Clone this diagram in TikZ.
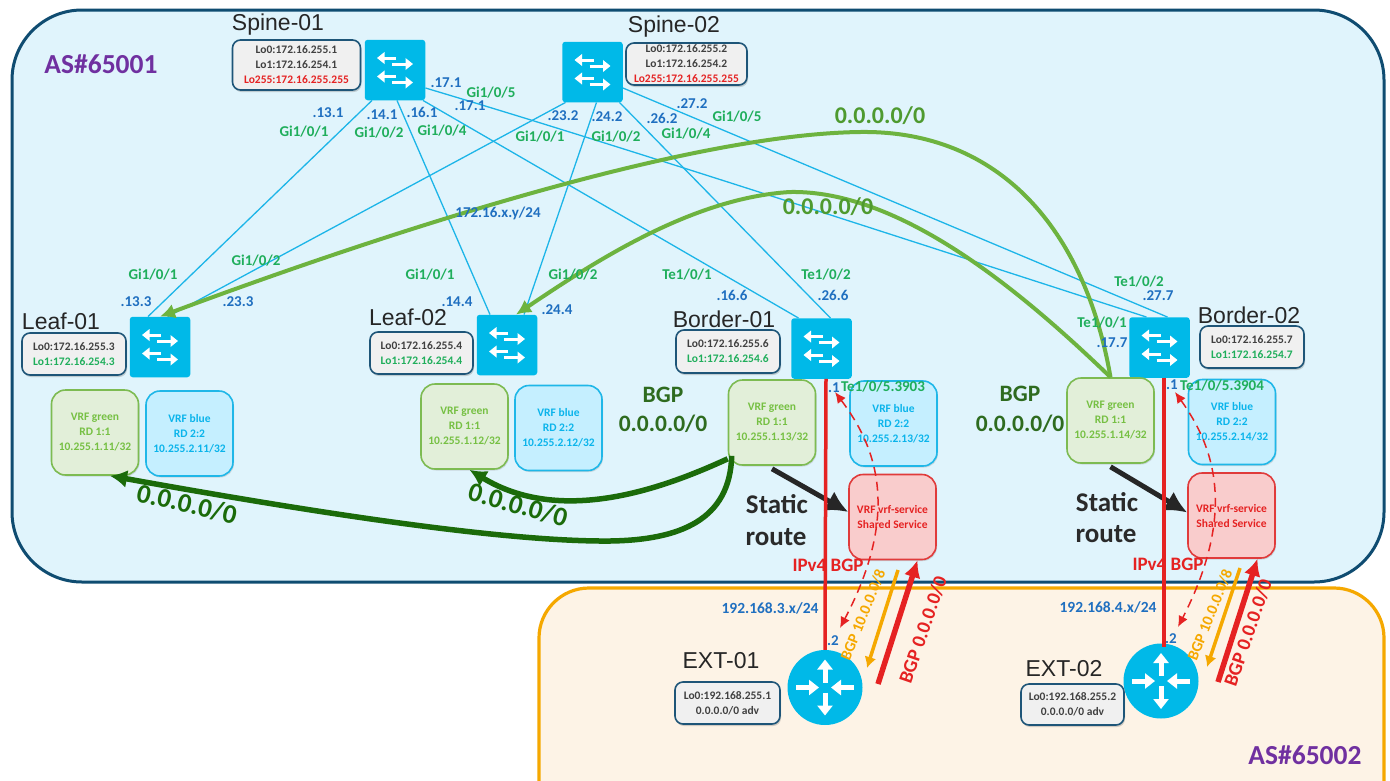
\documentclass[tikz,border=0pt]{standalone}
\usepackage{fontspec}
\setmainfont{Carlito}
\newfontfamily\titlefont{Liberation Sans}
\usetikzlibrary{arrows.meta,shadows,calc}
\definecolor{swblue}{HTML}{00B9E8}
\definecolor{linkblue}{HTML}{1CB5E8}
\definecolor{lblue}{HTML}{1F6FC0}
\definecolor{lgreen}{HTML}{1FAE5B}
\definecolor{lpurple}{HTML}{7030A0}
\definecolor{darkbgp}{HTML}{2E6B1F}
\definecolor{dgreen}{HTML}{1B6B0A}
\definecolor{mgreen}{HTML}{6DB33F}
\definecolor{mtext}{HTML}{4E9A2F}
\definecolor{redl}{HTML}{E52222}
\definecolor{orl}{HTML}{F5A800}
\definecolor{inktxt}{HTML}{2A2A2A}
\definecolor{boxline}{HTML}{1E5578}
\definecolor{boxfill}{HTML}{F0F0F0}
\definecolor{asline}{HTML}{0F4C71}
\definecolor{asfill}{HTML}{E0F4FC}
\definecolor{extfill}{HTML}{FDF3E6}
\definecolor{vgline}{HTML}{7DBB52}
\definecolor{vgfill}{HTML}{E2EFD9}
\definecolor{vgtext}{HTML}{76C043}
\definecolor{vbline}{HTML}{1FB7E8}
\definecolor{vbfill}{HTML}{C5EFFF}
\definecolor{vbtext}{HTML}{0AB4EB}
\definecolor{vrline}{HTML}{E03B3B}
\definecolor{vrfill}{HTML}{F9CCCC}
\newcounter{tlab}
\newcommand{\lab}[4][]{\stepcounter{tlab}\node[#1] (tl\arabic{tlab}) at (#2,#3) {#4};}
\newcommand{\fs}[1]{\fontsize{#1}{#1}\selectfont}
\newcommand{\swnode}[3]{%
  \node[swbox] (#1) at (#2,#3) {};
  \begin{scope}[shift={(#2,#3)}]
    \draw[icon] (1,-12) -- (-18,-12);
    \draw[icon] (-3,-6) -- (18,-6);
    \draw[icon] (1,6.5) -- (-18,6.5);
    \draw[icon] (-3,12.5) -- (18,12.5);
  \end{scope}}
\newcommand{\rtnode}[3]{%
  \node[rtbox] (#1) at (#2,#3) {};
  \begin{scope}[shift={(#2,#3)}]
    \draw[icon2] (0,-5) -- (0,-28);
    \draw[icon2] (0,5) -- (0,28);
    \draw[icon2] (-29,0) -- (-6,0);
    \draw[icon2] (29,0) -- (6,0);
  \end{scope}}
\newcommand{\infob}[6]{\node[infobox,minimum width=#4,minimum height=#5] (#1) at (#2,#3) {#6};}
\newcommand{\lred}[1]{\textcolor{redl}{#1}}
\newcommand{\lgr}[1]{\textcolor{lgreen}{#1}}
\tikzset{
  swbox/.style={fill=swblue,rounded corners=3pt,minimum width=60.5,minimum height=60.5,inner sep=0},
  rtbox/.style={circle,fill=swblue,minimum size=75,inner sep=0},
  icon/.style={draw=white,line width=3pt,-{Triangle[length=7.5pt,width=11.5pt]}},
  icon2/.style={draw=white,line width=5pt,-{Triangle[length=10pt,width=15pt]}},
  infobox/.style={draw=boxline,fill=boxfill,rounded corners=8pt,line width=1.6pt,inner sep=0,align=center,
     font=\bfseries\fontsize{11.5}{15}\selectfont,text=black!75,drop shadow={shadow xshift=1pt,shadow yshift=-2pt,opacity=.35}},
  vrfbase/.style={rounded corners=14pt,line width=1.6pt,minimum width=87,minimum height=85,inner sep=0,align=center,
     font=\bfseries\fontsize{11.5}{15}\selectfont,drop shadow={shadow xshift=1pt,shadow yshift=-1.5pt,opacity=.25}},
  vg/.style={vrfbase,draw=vgline,fill=vgfill,text=vgtext},
  vb/.style={vrfbase,draw=vbline,fill=vbfill,text=vbtext},
  vr/.style={vrfbase,draw=vrline,fill=vrfill,text=redl},
  link/.style={draw=linkblue,line width=1.3pt},
  gcurve/.style={draw=mgreen,line width=4pt,-{Latex[length=15pt,width=15pt]}},
  dcurve/.style={draw=dgreen,line width=5.5pt,-{Latex[length=17pt,width=18pt]}},
  blk/.style={draw=black!85,line width=5pt,-{Latex[length=22pt,width=22pt]}},
  redv/.style={draw=redl,line width=3.5pt},
  reddash/.style={draw=redl,line width=1.5pt,dash pattern=on 9pt off 6pt,{Latex[length=11pt,width=10pt]}-{Latex[length=11pt,width=10pt]}},
  orarr/.style={draw=orl,line width=3.5pt,-{Latex[length=11pt,width=12pt]}},
  redarr/.style={draw=redl,line width=5.5pt,-{Latex[length=17pt,width=17pt]}},
  bl/.style={text=lblue,font=\bfseries\fs{15},inner sep=0},
  bll/.style={text=lblue,font=\bfseries\fs{15.5},inner sep=0},
  gl/.style={text=lgreen,font=\bfseries\fs{15},inner sep=0},
  ttl/.style={text=black!85,font=\titlefont\fs{23},inner sep=0},
  bgpt/.style={text=darkbgp,font=\bfseries\fs{23.5},inner sep=0},
  sta/.style={text=inktxt,font=\bfseries\fs{27},inner sep=0},
  route/.style={text=dgreen,font=\bfseries\fs{27},inner sep=0},
  lroute/.style={text=mtext,font=\bfseries\fs{24},inner sep=0},
  asn/.style={text=lpurple,font=\bfseries\fs{27.5},inner sep=0},
  ipv/.style={text=redl,font=\bfseries\fs{19},inner sep=0},
  rbgp/.style={text=redl,font=\bfseries\fs{19.5},inner sep=0,rotate=71},
  obgp/.style={text=orl,font=\bfseries\fs{15.5},inner sep=0,rotate=68},
}
\begin{document}
\begin{tikzpicture}[x=1pt,y=-1pt]
\useasboundingbox (0,0) rectangle (1390,780);
\begin{scope}
\clip (0,0) rectangle (1390,780);
\fill[white] (0,0) rectangle (1390,780);
\draw[draw=asline,fill=asfill,line width=3pt,rounded corners=70pt] (12,10) rectangle (1384,582);
\draw[draw=orl,fill=extfill,line width=3.2pt,rounded corners=50pt] (539,588) rectangle (1384,830);
\end{scope}

% devices
\swnode{sp1}{395}{70}
\swnode{sp2}{592.5}{72}
\swnode{lf1}{160}{347}
\swnode{lf2}{507}{345}
\swnode{bd1}{821.5}{348.5}
\swnode{bd2}{1159.5}{347.5}
\rtnode{r1}{825}{687.5}
\rtnode{r2}{1161}{681}

% spine-to-leaf/border links
\draw[link] ([xshift=-23pt]sp1.south) -- ([xshift=-12pt]lf1.north);
\draw[link] ([xshift=2pt]sp1.south) -- ([xshift=-17pt]lf2.north);
\draw[link] ([xshift=28pt]sp1.south) -- ([xshift=-23pt]bd1.north);
\draw[link] ([yshift=-18pt]sp1.east) .. controls (600,140) and (800,205) .. ([xshift=-13pt]bd2.north);
\draw[link] ([xshift=-27pt]sp2.south) -- ([xshift=8pt]lf1.north);
\draw[link] ([xshift=4pt]sp2.south) -- ([xshift=17pt]lf2.north);
\draw[link] ([xshift=27pt]sp2.south) -- ([xshift=9pt]bd1.north);
\draw[link] ([yshift=-16pt]sp2.east) -- ([xshift=8pt]bd2.north);

% info boxes
\infob{i1}{296.5}{65}{128}{50}{Lo0:172.16.255.1\\Lo1:172.16.254.1\\\lred{Lo255:172.16.255.255}}
\infob{i2}{686.5}{64}{121}{42}{Lo0:172.16.255.2\\Lo1:172.16.254.2\\\lred{Lo255:172.16.255.255}}
\infob{i3}{74}{354}{104}{42}{Lo0:172.16.255.3\\\lgr{Lo1:172.16.254.3}}
\infob{i4}{421.5}{353}{103}{42}{Lo0:172.16.255.4\\\lgr{Lo1:172.16.254.4}}
\infob{i5}{728}{351.5}{104}{43}{Lo0:172.16.255.6\\\lgr{Lo1:172.16.254.6}}
\infob{i6}{1252}{347}{104}{42}{Lo0:172.16.255.7\\\lgr{Lo1:172.16.254.7}}
\infob{i7}{727.5}{703}{105}{42}{Lo0:192.168.255.1\\0.0.0.0/0 adv}
\infob{i8}{1072.5}{704.5}{103}{41}{Lo0:192.168.255.2\\0.0.0.0/0 adv}

% VRF boxes
\node[vg] (vg1) at (95,432.5) {VRF green\\RD 1:1\\10.255.1.11/32};
\node[vb] (vb1) at (189.5,433.5) {VRF blue\\RD 2:2\\10.255.2.11/32};
\node[vg] (vg2) at (464.5,426.5) {VRF green\\RD 1:1\\10.255.1.12/32};
\node[vb] (vb2) at (558.5,428) {VRF blue\\RD 2:2\\10.255.2.12/32};
\node[vg] (vg3) at (772,422.5) {VRF green\\RD 1:1\\10.255.1.13/32};
\node[vb] (vb3) at (893.5,423.5) {VRF blue\\RD 2:2\\10.255.2.13/32};
\node[vr] (vr3) at (892.5,517) {VRF vrf-service\\Shared Service};
\node[vg] (vg4) at (1110.5,420.5) {VRF green\\RD 1:1\\10.255.1.14/32};
\node[vb] (vb4) at (1232,422) {VRF blue\\RD 2:2\\10.255.2.14/32};
\node[vr] (vr4) at (1231.5,515.5) {VRF vrf-service\\Shared Service};

% route curves
\draw[gcurve] (vg4.north) .. controls (1085,230) and (1000,130) .. (860,132) .. controls (700,134) and (420,220) .. (lf1.north);
\draw[gcurve] (vg4.north) .. controls (1020,290) and (900,190) .. (790,192) .. controls (690,198) and (590,265) .. ([xshift=9pt]lf2.north);
\draw[dcurve] ([yshift=7pt]vg3.south west) .. controls (660,490) and (560,525) .. ([xshift=5pt]vg2.south);
\draw[dcurve] ([xshift=4pt,yshift=10pt]vg3.south west) .. controls (730,520) and (680,540) .. (610,541) .. controls (500,542) and (300,510) .. ([xshift=15pt]vg1.south);
\draw[blk] ([yshift=-3pt]vg3.south) -- ([yshift=5pt]vr3.west);
\draw[blk] ([yshift=-3pt]vg4.south) -- ([yshift=3pt]vr4.west);

% BGP sessions
\draw[redv] ([xshift=4.5pt]bd1.south) -- (r1.north);
\draw[redv] ([xshift=4.5pt]bd2.south) -- ([xshift=3pt,yshift=-4pt]r2.north);

\coordinate (d1a) at (835,392);
\coordinate (d1b) at (840,628);
\coordinate (d2a) at (1175,392);
\coordinate (d2b) at (1178,627);
\draw[reddash] (d1a) .. controls (875,445) and (902,510) .. (d1b);
\draw[reddash] (d2a) .. controls (1213,445) and (1238,510) .. (d2b);

\coordinate (o1a) at (898,570);
\coordinate (o1b) at (867,668);
\coordinate (o2a) at (1240,568);
\coordinate (o2b) at (1207,667);
\draw[orarr] (o1a) -- (o1b);
\draw[orarr] (o2a) -- (o2b);
\coordinate (q1a) at (878,684);
\coordinate (q2a) at (1218,682);
\draw[redarr] (q1a) -- ([xshift=25pt]vr3.south);
\draw[redarr] (q2a) -- ([xshift=26pt]vr4.south);

% titles
\lab[ttl]{278}{25}{Spine-01}
\lab[ttl]{674}{27}{Spine-02}
\lab[ttl]{61}{321}{Leaf-01}
\lab[ttl]{408}{317}{Leaf-02}
\lab[ttl]{724}{319}{Border-01}
\lab[ttl]{1249}{315}{Border-02}
\lab[ttl]{721}{661}{EXT-01}
\lab[ttl]{1064}{669}{EXT-02}
\lab[asn]{101}{64}{AS\#65001}
\lab[asn]{1305}{755}{AS\#65002}

% port labels
\lab[bl]{446}{83}{.17.1}
\lab[bl]{470}{106}{.17.1}
\lab[bl]{328}{113}{.13.1}
\lab[bl]{382}{115}{.14.1}
\lab[bl]{422}{112}{.16.1}
\lab[bl]{563}{116}{.23.2}
\lab[bl]{607}{117}{.24.2}
\lab[bl]{662}{118}{.26.2}
\lab[bl]{692}{104}{.27.2}
\lab[gl]{491}{93}{Gi1/0/5}
\lab[gl]{304}{132}{Gi1/0/1}
\lab[gl]{379}{133}{Gi1/0/2}
\lab[gl]{442}{131}{Gi1/0/4}
\lab[gl]{540}{137}{Gi1/0/1}
\lab[gl]{616}{137}{Gi1/0/2}
\lab[gl]{686}{134}{Gi1/0/4}
\lab[gl]{737}{117}{Gi1/0/5}
\lab[bl]{498}{213}{172.16.x.y/24}
\lab[gl]{153}{275}{Gi1/0/1}
\lab[gl]{256}{261}{Gi1/0/2}
\lab[bl]{136}{302}{.13.3}
\lab[bl]{238}{302}{.23.3}
\lab[gl]{430}{275}{Gi1/0/1}
\lab[gl]{573}{275}{Gi1/0/2}
\lab[bl]{457}{302}{.14.4}
\lab[bl]{557}{310}{.24.4}
\lab[gl]{687}{275}{Te1/0/1}
\lab[gl]{826}{275}{Te1/0/2}
\lab[bl]{732}{295}{.16.6}
\lab[bl]{833}{295}{.26.6}
\lab[gl]{1139}{282}{Te1/0/2}
\lab[bl]{1158}{296}{.27.7}
\lab[gl]{1102}{323}{Te1/0/1}
\lab[bl]{1112}{343}{.17.7}
\lab[bl]{834}{388}{.1}
\lab[gl]{883}{387}{Te1/0/5.3903}
\lab[bl]{1172}{385}{.1}
\lab[gl]{1222}{386}{Te1/0/5.3904}
\lab[bll]{770}{608}{192.168.3.x/24}
\lab[bll]{1108}{607}{192.168.4.x/24}
\lab[bl]{833}{641}{.2}
\lab[bl]{1171}{639}{.2}

% route labels
\lab[bgpt]{663}{395}{BGP}
\lab[bgpt]{663}{424}{0.0.0.0/0}
\lab[bgpt]{1020}{394}{BGP}
\lab[bgpt]{1020}{424}{0.0.0.0/0}
\lab[sta]{777}{504}{Static}
\lab[sta]{776}{537}{route}
\lab[sta]{1107}{502}{Static}
\lab[sta]{1106}{534}{route}
\lab[route,rotate=-13]{187}{504}{0.0.0.0/0}
\lab[route,rotate=-16]{518}{505}{0.0.0.0/0}
\lab[lroute]{880}{116}{0.0.0.0/0}
\lab[lroute]{828}{207}{0.0.0.0/0}
\lab[ipv]{828}{565}{IPv4 BGP}
\lab[ipv]{1168}{564}{IPv4 BGP}
\lab[rbgp]{923}{630}{BGP 0.0.0.0/0}
\lab[rbgp]{1248}{633}{BGP 0.0.0.0/0}
\lab[obgp]{863}{615}{BGP 10.0.0.0/8}
\lab[obgp]{1210}{615}{BGP 10.0.0.0/8}
\end{tikzpicture}
\end{document}
